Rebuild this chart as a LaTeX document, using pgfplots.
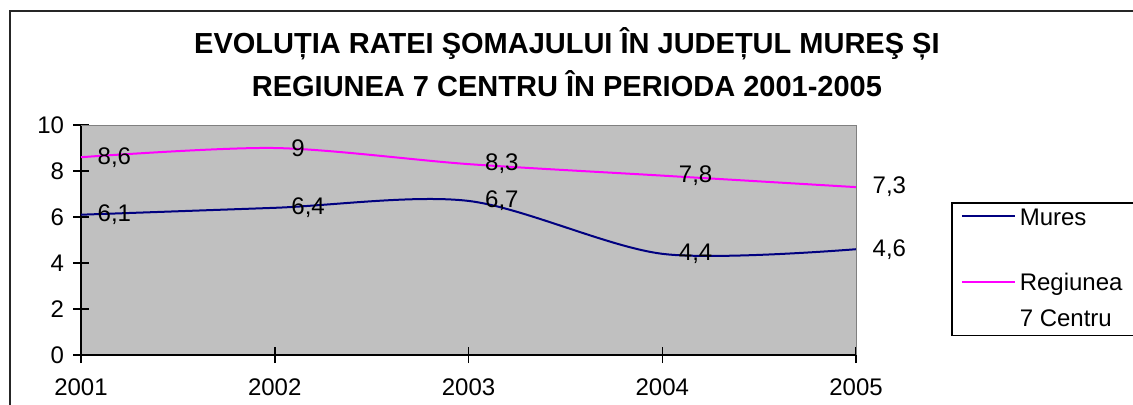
\documentclass[border=0pt]{standalone}
\usepackage{fontspec}
\setmainfont{Liberation Sans}
\usepackage{pgfplots}
\pgfplotsset{compat=1.18}
\definecolor{plotgray}{HTML}{C0C0C0}
\definecolor{murescol}{HTML}{000080}
\definecolor{regcol}{HTML}{FF00FF}
\pgfplotsset{
  muresleg/.style={legend image code/.code={\draw[##1, line width=1pt] (0pt,4.5pt) -- (26.5pt,4.5pt);}},
  regleg/.style={legend image code/.code={\draw[##1, line width=1pt] (0pt,22.5pt) -- (26.5pt,22.5pt);}},
}
\begin{document}
\begin{tikzpicture}
\useasboundingbox (0pt,0pt) rectangle (566.5pt,-202pt);
\draw[line width=0.75pt, black!85] (5pt,-5.5pt) rectangle (620pt,-240pt);
\begin{axis}[
  at={(40.5pt,-177.5pt)}, anchor=south west,
  scale only axis, width=387.5pt, height=115pt,
  xmin=2001, xmax=2005, ymin=0, ymax=10,
  xtick={2001,2002,2003,2004,2005}, ytick={0,2,4,6,8,10},
  axis lines*=left,
  axis line style={line width=0.75pt, black},
  tick style={line width=0.75pt, black},
  tick align=center, major tick length=8pt,
  axis background/.style={fill=plotgray},
  clip=false,
  /pgf/number format/assume math mode=true,
  /pgf/number format/use comma,
  /pgf/number format/1000 sep={},
  ticklabel style={font=\fontsize{12}{14}\selectfont},
  xticklabel style={yshift=-4.5pt},
  yticklabel style={xshift=-1pt},
  title={EVOLUȚIA RATEI ŞOMAJULUI ÎN JUDEȚUL MUREŞ ȘI\\REGIUNEA 7 CENTRU ÎN PERIODA 2001-2005},
  title style={at={(0.627,1.223)}, anchor=center, align=center,
    font=\fontsize{14.5}{21.5}\selectfont\bfseries},
  nodes near coords,
  nodes near coords align=horizontal,
  every node near coord/.append style={font=\fontsize{12}{14}\selectfont, text=black, xshift=4.5pt},
  legend style={at={(1,1)}, anchor=north west, xshift=47.5pt, yshift=-38.5pt,
    draw=black, line width=0.75pt, fill=white, inner xsep=4.5pt, inner ysep=1pt,
    font=\fontsize{12}{18}\selectfont, row sep=18.5pt,
    cells={anchor=base west, align=left}},
  after end axis/.code={\draw[gray, line width=0.5pt] (rel axis cs:0,1) -- (rel axis cs:1,1) -- (rel axis cs:1,0);},
]
\addplot[murescol, line width=1pt, smooth, muresleg] coordinates {
  (2001,6.1) (2002,6.4) (2003,6.7) (2004,4.4) (2005,4.6)};
\addlegendentry{Mures}
\addplot[regcol, line width=1pt, smooth, regleg] coordinates {
  (2001,8.6) (2002,9) (2003,8.3) (2004,7.8) (2005,7.3)};
\addlegendentry{Regiunea\\7 Centru}
\end{axis}
\end{tikzpicture}
\end{document}
